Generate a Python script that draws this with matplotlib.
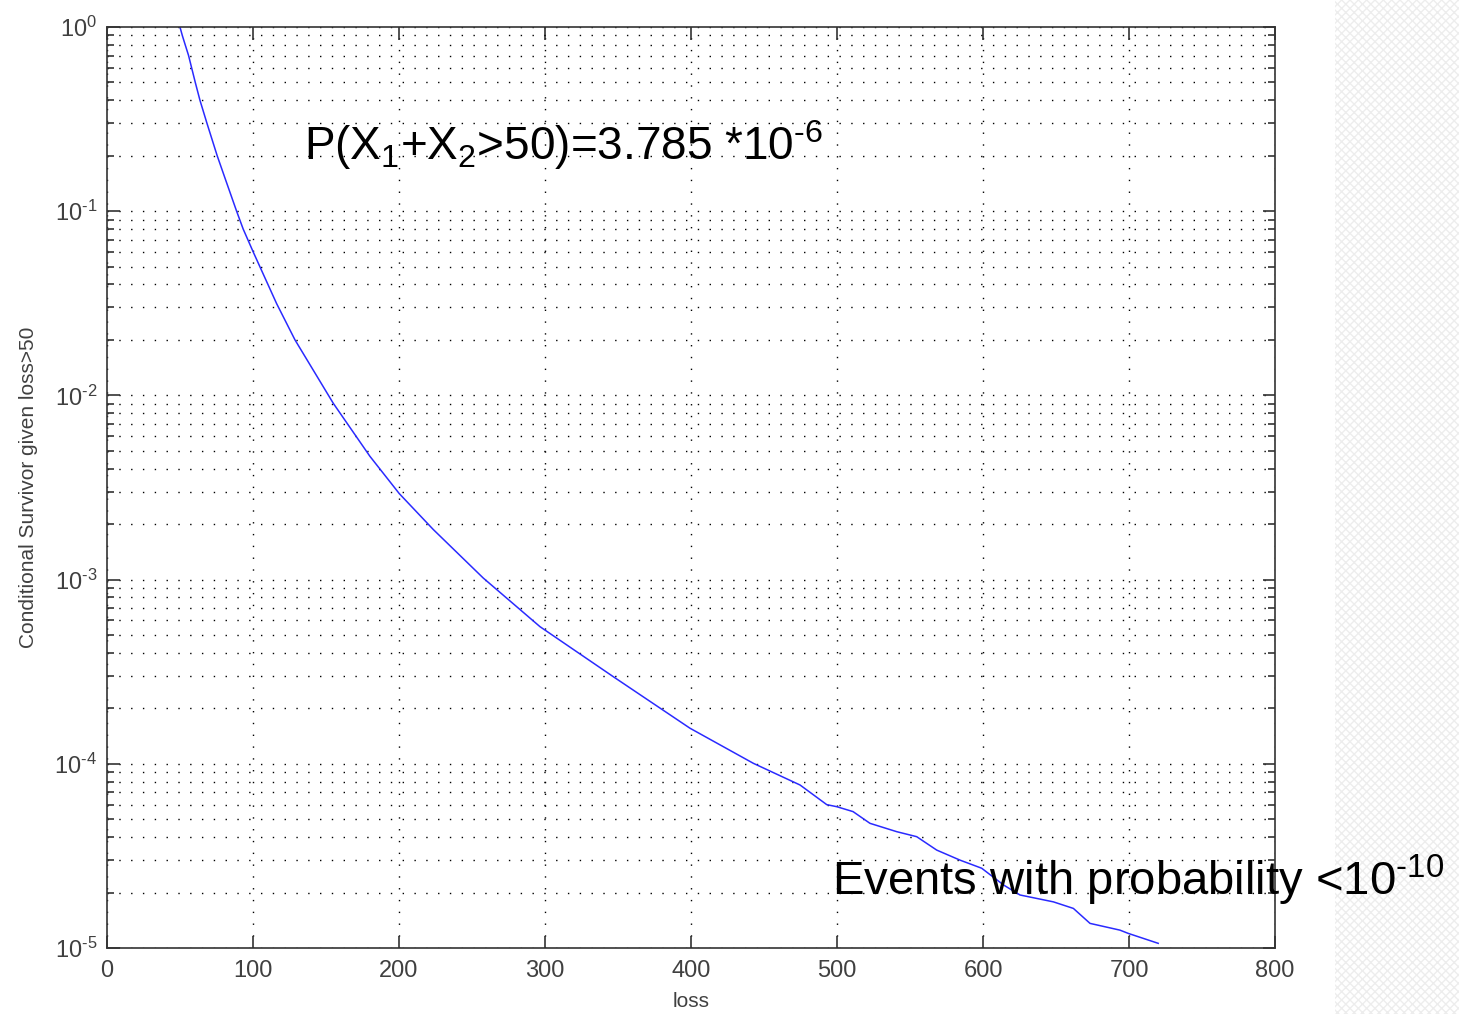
import matplotlib
matplotlib.use("Agg")
import matplotlib.pyplot as plt
from matplotlib.patches import Rectangle
from matplotlib.ticker import FuncFormatter
import numpy as np

plt.rcParams['font.family'] = ['Liberation Sans', 'DejaVu Sans']
plt.rcParams['mathtext.fontset'] = 'custom'
plt.rcParams['mathtext.rm'] = 'Liberation Sans'
plt.rcParams['mathtext.it'] = 'Liberation Sans:italic'
plt.rcParams['mathtext.bf'] = 'Liberation Sans:bold'
plt.rcParams['mathtext.default'] = 'regular'

# values
loss = [50, 51.6, 53.6, 55.9, 58, 60.5, 63.7, 68.5, 75.5, 81.0, 88.8, 93.3, 100.2,
        116.2, 128.8, 155, 180.1, 200.2, 223.5, 257.7, 296.6, 346.8, 399.3, 442.7,
        474.7, 493, 499.8, 511, 522.6, 540.9, 554.6, 568.3, 584.2, 599.1, 614,
        625.3, 648.2, 661.9, 673.3, 693.8, 699.5, 720]
survivor = [1.0, 0.9, 0.8, 0.7, 0.6, 0.5, 0.4, 0.3, 0.2, 0.15, 0.1, 0.08, 0.06,
            0.0315, 0.020, 0.00906, 0.00467, 0.00293, 0.00187, 1.02e-3, 5.55e-4,
            2.97e-4, 1.56e-4, 1.006e-4, 7.67e-5, 6.0e-5, 5.85e-5, 5.5e-5, 4.75e-5,
            4.28e-5, 4.02e-5, 3.40e-5, 3.0e-5, 2.71e-5, 2.2e-5, 1.94e-5, 1.78e-5,
            1.64e-5, 1.36e-5, 1.25e-5, 1.2e-5, 1.06e-5]

xticks = [0, 100, 200, 300, 400, 500, 600, 700, 800]

fig = plt.figure(figsize=(14.59, 10.14), dpi=100)

# faint hatched strip on the right edge
fig.patches.append(Rectangle((0.915, 0), 0.085, 1, transform=fig.transFigure,
                             facecolor='white', edgecolor='#ededed',
                             hatch='xxxx', linewidth=0, zorder=-10))

ax = fig.add_axes([0.0733, 0.0651, 0.8006, 0.9083])
ax.semilogy(loss, survivor, color='#2a2aff', linewidth=1.1)
ax.set_xlim(0, 800)
ax.set_ylim(1e-5, 1)
ax.set_xticks(xticks)


def dec_label(v, pos):
    e = int(round(np.log10(v)))
    if e < 0:
        return r'10$^{\text{-%d}}$' % (-e)
    return r'10$^{%d}$' % e


ax.yaxis.set_major_formatter(FuncFormatter(dec_label))

dots = (0, (1, 7.5))
ax.grid(True, which='major', axis='both', linestyle=dots, color='black', linewidth=1.0)
ax.grid(True, which='minor', axis='y', linestyle=dots, color='black', linewidth=1.0)

ax.tick_params(which='both', direction='in', top=True, right=True,
               labelsize=17, labelcolor='#404040', color='#333333')
ax.tick_params(which='major', length=9, width=1.2)
ax.tick_params(which='minor', length=5, width=1.2)
ax.tick_params(axis='x', pad=9)
ax.tick_params(axis='y', pad=7)
for s in ax.spines.values():
    s.set_linewidth(1.2)
    s.set_color('#333333')

ax.set_xlabel('loss', fontsize=15, color='#404040', labelpad=7)
ax.set_ylabel('Conditional Survivor given loss>50', fontsize=15, color='#404040', labelpad=12)

ax.text(0.169, 0.856, r'P(X$_1$+X$_2$>50)=3.785 *10$^{\text{-6}}$', transform=ax.transAxes,
        fontsize=33, color='black', va='baseline')
ax.text(0.621, 0.057, r'Events with probability <10$^{\text{-10}}$', transform=ax.transAxes,
        fontsize=34, color='black', va='baseline', clip_on=False)

fig.savefig('out.png', dpi=100)
